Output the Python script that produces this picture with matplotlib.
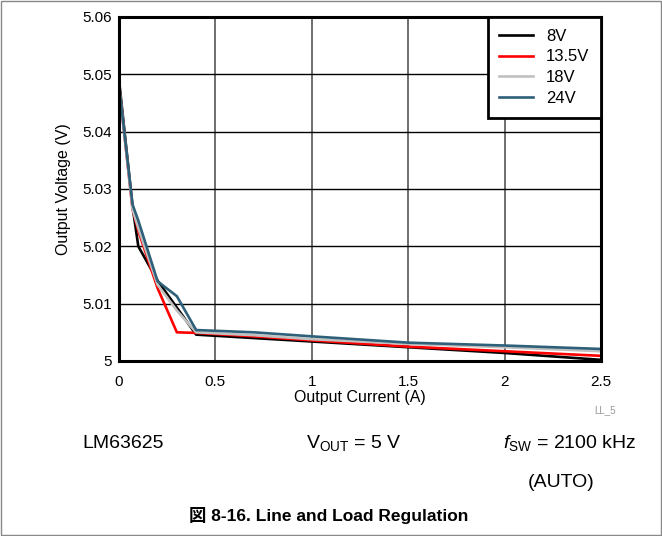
import numpy as np
import matplotlib.pyplot as plt
from matplotlib.patches import Rectangle

plt.rcParams['font.family'] = ['Liberation Sans', 'Noto Sans CJK JP', 'DejaVu Sans']
plt.rcParams['mathtext.fontset'] = 'custom'
plt.rcParams['mathtext.rm'] = 'Liberation Sans'
plt.rcParams['mathtext.it'] = 'Liberation Sans:italic'

# output current (A)
current = [0.0, 0.07, 0.1, 0.2, 0.3, 0.4, 0.7, 1.0, 1.5, 2.0, 2.5]
# output voltage (V) per input voltage
v_8 = [5.049, 5.027, 5.020, 5.014, 5.0093, 5.0046, 5.0040, 5.0034, 5.0024, 5.0014, 5.0002]
v_13_5 = [5.048, 5.0265, 5.0227, 5.0127, 5.0050, 5.0049, 5.0043, 5.0036, 5.0025, 5.0017, 5.0009]
v_18 = [5.048, 5.0265, 5.0232, 5.0133, 5.0088, 5.0050, 5.0045, 5.0038, 5.0030, 5.0024, 5.0017]
v_24 = [5.048, 5.0273, 5.0245, 5.0139, 5.0113, 5.0054, 5.0050, 5.0043, 5.0032, 5.0027, 5.0021]

labels = ['8V', '13.5V', '18V', '24V']
colors = ['#000000', '#FF0000', '#C0C0C0', '#2E6079']

fig = plt.figure(figsize=(6.62, 5.36), dpi=100)
ax = fig.add_axes([0.1798, 0.3265, 0.7281, 0.6418])

for ys, lab, c in zip([v_8, v_13_5, v_18, v_24], labels, colors):
    ax.plot(current, ys, color=c, lw=1.9, label=lab)

ax.set_xlim(0, 2.5)
ax.set_ylim(5.0, 5.06)
ax.set_xticks([0, 0.5, 1, 1.5, 2, 2.5])
ax.set_xticklabels(['0', '0.5', '1', '1.5', '2', '2.5'])
ax.set_yticks([5.0, 5.01, 5.02, 5.03, 5.04, 5.05, 5.06])
ax.set_yticklabels(['5', '5.01', '5.02', '5.03', '5.04', '5.05', '5.06'])
ax.tick_params(length=0, labelsize=11)
ax.tick_params(axis='x', pad=10)
ax.tick_params(axis='y', pad=5)
ax.grid(axis='y', color='#000000', lw=1.0)
ax.grid(axis='x', color='#555555', lw=1.2)
for s in ax.spines.values():
    s.set_linewidth(2.2)
ax.set_xlabel('Output Current (A)', fontsize=11.5, labelpad=1)
ax.set_ylabel('Output Voltage (V)', fontsize=11.5, labelpad=8)

leg = ax.legend(loc='upper right', fontsize=12, fancybox=False, framealpha=1,
                edgecolor='black', borderaxespad=0.0, handlelength=2.0,
                labelspacing=0.35, borderpad=0.7, handletextpad=0.8)
leg.get_frame().set_linewidth(2.0)

fig.text(0.914, 0.229, 'LL_5', fontsize=7, color='#999999', ha='center')
fig.text(0.124, 0.164, 'LM63625', fontsize=14, ha='left', va='baseline')
fig.text(0.535, 0.164, r'V$_{\mathrm{OUT}}$ = 5 V', fontsize=14, ha='center', va='baseline')
fig.text(0.962, 0.164, r'$f_{\mathrm{SW}}$ = 2100 kHz', fontsize=14, ha='right', va='baseline')
fig.text(0.847, 0.091, '(AUTO)', fontsize=14, ha='center', va='baseline')
fig.text(0.497, 0.028, '図 8-16. Line and Load Regulation', fontsize=12.5,
         fontweight='bold', ha='center', va='baseline')

fig.patches.append(Rectangle((0.001, 0.001), 0.998, 0.998, transform=fig.transFigure,
                             fill=False, edgecolor='#888888', lw=1.0))

fig.savefig('out.png', dpi=100)
